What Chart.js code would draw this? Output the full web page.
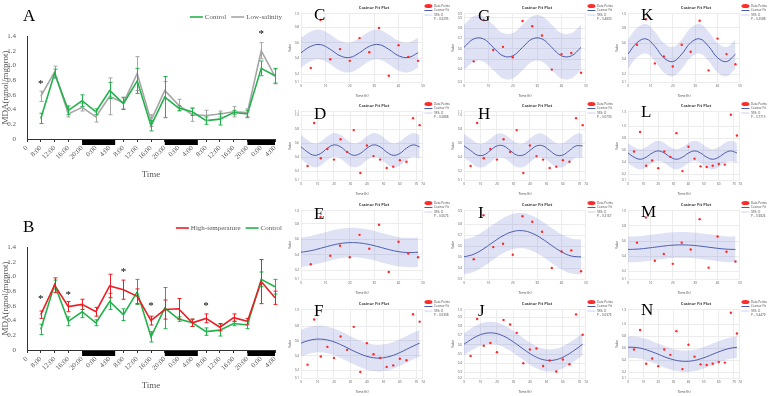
<!DOCTYPE html>
<html>
<head>
<meta charset="utf-8">
<script src="https://cdn.jsdelivr.net/npm/chart.js@4.4.0/dist/chart.umd.min.js"></script>
<style>
  body { margin: 0; background: #fff; width: 777px; height: 396px; position: relative; overflow: hidden; }
  canvas { position: absolute; }
  .tag { position: absolute; font-family: "Liberation Serif", serif; font-size: 17px; line-height: 17px; color: #000; }
</style>
</head>
<body>
<script>
// === DATA: panels A and B ===
const timeLabels = ["0", "8:00", "12:00", "16:00", "20:00", "0:00", "4:00", "8:00", "12:00", "16:00", "20:00", "0:00", "4:00", "8:00", "12:00", "16:00", "20:00", "0:00", "4:00"];

const control     = [0.28, 0.89, 0.39, 0.52, 0.37, 0.66, 0.48, 0.79, 0.18, 0.57, 0.42, 0.37, 0.25, 0.27, 0.36, 0.34, 0.96, 0.86];
const controlErr  = [0.07, 0.06, 0.06, 0.08, 0.04, 0.11, 0.08, 0.17, 0.07, 0.28, 0.03, 0.05, 0.05, 0.08, 0.03, 0.05, 0.10, 0.10];
const lowSalinity = [0.58, 0.91, 0.34, 0.43, 0.30, 0.58, 0.49, 0.89, 0.25, 0.66, 0.46, 0.33, 0.32, 0.34, 0.37, 0.36, 1.20, 0.85];
const lowSalErr   = [0.07, 0.08, 0.04, 0.05, 0.07, 0.25, 0.08, 0.23, 0.08, 0.12, 0.08, 0.09, 0.07, 0.04, 0.07, 0.05, 0.11, 0.10];
const highTemp    = [0.48, 0.88, 0.59, 0.62, 0.52, 0.87, 0.82, 0.73, 0.40, 0.55, 0.56, 0.37, 0.43, 0.31, 0.44, 0.39, 0.93, 0.71];
const highTempErr = [0.05, 0.10, 0.07, 0.07, 0.06, 0.16, 0.13, 0.10, 0.06, 0.13, 0.14, 0.05, 0.06, 0.05, 0.05, 0.04, 0.30, 0.09];

// dark periods (category index, start / end)
const darkStart = [4, 10, 16];
const darkEnd   = [6.4, 12.4, 18];

// significance stars (category index + height)
const starsAIdx = [1, 17];
const starsAVal = [0.78, 1.45];
const starsBIdx = [1, 3, 7, 9, 13];
const starsBVal = [0.72, 0.78, 1.09, 0.63, 0.63];

// === DATA: cosinor panels ===
const sampleHours = [4, 8, 12, 16, 20, 24, 28, 32, 36, 40, 44, 48, 52, 56, 60, 64, 68, 72];
const fitHours    = [0, 4, 8, 12, 16, 20, 24, 28, 32, 36, 40, 44, 48, 52, 56, 60, 64, 68, 72];

const fitC = [0.473, 0.555, 0.577, 0.517, 0.435, 0.413, 0.473, 0.555, 0.577, 0.517, 0.435, 0.413, 0.473];
const fitD = [0.552, 0.478, 0.431, 0.458, 0.532, 0.579, 0.552, 0.478, 0.431, 0.458, 0.532, 0.579, 0.552, 0.478, 0.431, 0.458, 0.532, 0.579, 0.552];
const fitE = [0.435, 0.455, 0.486, 0.520, 0.547, 0.559, 0.555, 0.535, 0.504, 0.470, 0.443, 0.431, 0.435];
const fitF = [0.570, 0.602, 0.621, 0.625, 0.613, 0.588, 0.551, 0.508, 0.464, 0.424, 0.392, 0.373, 0.369, 0.381, 0.406, 0.443, 0.486, 0.530, 0.570];
const fitG = [0.615, 0.697, 0.697, 0.615, 0.533, 0.533, 0.615, 0.697, 0.697, 0.615, 0.533, 0.533, 0.615];
const fitH = [0.565, 0.500, 0.435, 0.435, 0.500, 0.565, 0.565, 0.500, 0.435, 0.435, 0.500, 0.565, 0.565, 0.500, 0.435, 0.435, 0.500, 0.565, 0.565];
const fitI = [0.501, 0.525, 0.574, 0.636, 0.693, 0.731, 0.739, 0.715, 0.666, 0.604, 0.547, 0.509, 0.501];
const fitJ = [0.606, 0.655, 0.695, 0.721, 0.730, 0.721, 0.695, 0.655, 0.606, 0.554, 0.505, 0.465, 0.439, 0.430, 0.439, 0.465, 0.505, 0.554, 0.606];
const fitK = [0.460, 0.607, 0.657, 0.560, 0.413, 0.363, 0.460, 0.607, 0.657, 0.560, 0.413, 0.363, 0.460];
const fitL = [0.555, 0.485, 0.450, 0.485, 0.555, 0.590, 0.555, 0.485, 0.450, 0.485, 0.555, 0.590, 0.555, 0.485, 0.450, 0.485, 0.555, 0.590, 0.555];
const fitM = [0.490, 0.494, 0.505, 0.520, 0.535, 0.546, 0.550, 0.546, 0.535, 0.520, 0.505, 0.494, 0.490];
const fitN = [0.618, 0.618, 0.604, 0.577, 0.541, 0.500, 0.459, 0.423, 0.396, 0.382, 0.382, 0.396, 0.423, 0.459, 0.500, 0.541, 0.577, 0.604, 0.618];

const serif = '"Liberation Serif", "Times New Roman", serif';
const sans = '"Open Sans", "Liberation Sans", sans-serif';

// === PLUGINS ===
const errorBars = {
  id: "errorBars",
  afterDatasetsDraw(chart) {
    const { ctx, scales: { x, y } } = chart;
    for (let i = chart.data.datasets.length - 1; i >= 0; i--) {
      const ds = chart.data.datasets[i];
      ctx.save();
      ctx.strokeStyle = ds.borderColor;
      ctx.lineWidth = 1;
      ds.data.forEach((v, j) => {
        const e = ds.errs[j];
        if (v == null || e == null) return;
        const px = Math.round(x.getPixelForValue(j)) + 0.5;
        const y1 = y.getPixelForValue(v + e), y2 = y.getPixelForValue(v - e);
        ctx.beginPath();
        ctx.moveTo(px, y1); ctx.lineTo(px, y2);
        ctx.moveTo(px - 2, y1); ctx.lineTo(px + 2, y1);
        ctx.moveTo(px - 2, y2); ctx.lineTo(px + 2, y2);
        ctx.stroke();
      });
      ctx.restore();
    }
  }
};

const darkBars = {
  id: "darkBars",
  afterDraw(chart) {
    const { ctx, chartArea, scales: { x } } = chart;
    ctx.save();
    ctx.fillStyle = "#000";
    darkStart.forEach((s, i) => {
      const x1 = x.getPixelForValue(s), x2 = x.getPixelForValue(darkEnd[i]);
      ctx.fillRect(x1, chartArea.bottom + 1, x2 - x1, 5);
    });
    ctx.restore();
  }
};

const stars = {
  id: "stars",
  afterDraw(chart, args, opts) {
    const { ctx, scales: { x, y } } = chart;
    ctx.save();
    ctx.fillStyle = "#000";
    ctx.font = "11px " + serif;
    ctx.textAlign = "center";
    ctx.textBaseline = "middle";
    opts.idx.forEach((k, i) => ctx.fillText("*", x.getPixelForValue(k), y.getPixelForValue(opts.val[i]) + 2));
    ctx.restore();
  }
};

const topLegend = {
  id: "topLegend",
  afterDraw(chart) {
    const ctx = chart.ctx;
    ctx.save();
    ctx.font = "7px " + serif;
    ctx.textBaseline = "middle";
    const items = chart.data.datasets.map(d => ({ t: d.label, c: d.borderColor, w: ctx.measureText(d.label).width }));
    const total = items.reduce((s, it) => s + 15 + it.w, 0) + 5 * (items.length - 1);
    let x = chart.chartArea.right + 7 - total;
    const y = 17;
    items.forEach(it => {
      ctx.strokeStyle = it.c; ctx.lineWidth = 1.6;
      ctx.beginPath(); ctx.moveTo(x, y); ctx.lineTo(x + 13, y); ctx.stroke();
      x += 15;
      ctx.fillStyle = "#595959";
      ctx.fillText(it.t, x, y);
      x += it.w + 5;
    });
    ctx.restore();
  }
};

// === PANELS A / B ===
function mdaChart(top, series, starIdx, starVal) {
  const cv = document.createElement("canvas");
  cv.width = 296; cv.height = 190;
  cv.style.left = "0px"; cv.style.top = top + "px";
  document.body.appendChild(cv);
  new Chart(cv, {
    type: "line",
    data: {
      labels: timeLabels,
      datasets: series.map(s => ({
        label: s.label, data: [null, ...s.values], errs: [null, ...s.errs],
        borderColor: s.color, backgroundColor: s.color, borderWidth: 1.6, pointRadius: 0, tension: 0
      }))
    },
    options: {
      responsive: false, animation: false, devicePixelRatio: 1,
      layout: { padding: { top: 36, right: 21, left: 0, bottom: 0 } },
      plugins: { legend: { display: false }, tooltip: { enabled: false }, stars: { idx: starIdx, val: starVal } },
      scales: {
        x: {
          offset: false,
          grid: { drawOnChartArea: false, tickLength: 3, color: "#333" },
          border: { color: "#333" },
          ticks: { minRotation: 45, maxRotation: 45, autoSkip: false, padding: 2, color: "#595959", font: { family: serif, size: 7 } },
          title: { display: true, text: "Time", color: "#595959", font: { family: serif, size: 9 }, padding: { top: 0, bottom: 10 } },
          afterFit(s) { s.height = 51; }
        },
        y: {
          min: 0, max: 1.4,
          grid: { display: false },
          border: { color: "#333" },
          ticks: { stepSize: 0.2, padding: 3, color: "#595959", font: { family: serif, size: 7 } },
          title: { display: true, text: "MDA(nmol/mgprot)", color: "#595959", font: { family: serif, size: 9 }, padding: 0 },
          afterFit(s) { s.width = 27; }
        }
      }
    },
    plugins: [errorBars, darkBars, stars, topLegend]
  });
}

mdaChart(0, [
  { label: "Control", values: control, errs: controlErr, color: "#22b24c" },
  { label: "Low-salinity", values: lowSalinity, errs: lowSalErr, color: "#a6a6a6" }
], starsAIdx, starsAVal);

mdaChart(211, [
  { label: "High-temperature", values: highTemp, errs: highTempErr, color: "#ee1c24" },
  { label: "Control", values: control, errs: controlErr, color: "#22b24c" }
], starsBIdx, starsBVal);

// === COSINOR PANELS ===
const cols = [{ left: 288, w: 172 }, { left: 451, w: 172 }, { left: 615, w: 162 }];
const rowTops = [2, 100, 199, 298];

function cosinorChart(col, row, values, fit, ci, yMin, yMax, yStep, xMax, pval) {
  const c = cols[col];
  const cv = document.createElement("canvas");
  cv.width = c.w; cv.height = 96;
  cv.style.left = c.left + "px"; cv.style.top = rowTops[row] + "px";
  document.body.appendChild(cv);
  const pts = values.map((v, i) => ({ x: sampleHours[i], y: v }));
  const line = fit.map((v, i) => ({ x: fitHours[i], y: v }));
  const up = fit.map((v, i) => ({ x: fitHours[i], y: v + ci }));
  const lo = fit.map((v, i) => ({ x: fitHours[i], y: v - ci }));
  new Chart(cv, {
    type: "line",
    data: {
      datasets: [
        { label: "Data Points", data: pts, showLine: false, pointRadius: 1.2, pointBorderWidth: 0, backgroundColor: "#ff2a2a", borderColor: "#ff2a2a", pointStyle: "circle" },
        { label: "Cosinor Fit", data: line, borderColor: "#4c5cad", backgroundColor: "#4c5cad", borderWidth: 1, pointRadius: 0, tension: 0.4 },
        { label: "95% CI", data: up, borderColor: "rgba(0,0,0,0)", backgroundColor: "rgba(110,122,210,0.22)", borderWidth: 0, pointRadius: 0, tension: 0.4, fill: "+1" },
        { label: "lower", data: lo, borderColor: "rgba(0,0,0,0)", borderWidth: 0, pointRadius: 0, tension: 0.4, fill: false }
      ]
    },
    options: {
      responsive: false, animation: false, devicePixelRatio: 1,
      layout: { padding: { top: 1, right: 0, left: 0, bottom: 0 } },
      plugins: {
        tooltip: { enabled: false },
        title: { display: true, text: "Cosinor Fit Plot", color: "#444", font: { family: sans, size: 4 }, padding: { top: 2, bottom: 4 } },
        legend: {
          position: "right", align: "start",
          labels: {
            usePointStyle: true, pointStyleWidth: 8, boxHeight: 3, padding: 1.5, color: "#444",
            font: { family: sans, size: 3 },
            generateLabels(chart) {
              const items = Chart.defaults.plugins.legend.labels.generateLabels(chart).filter(it => it.datasetIndex !== 3);
              items[0].pointStyle = "circle";
              items[1].pointStyle = "line";
              items[2].pointStyle = "line";
              items[2].strokeStyle = "rgba(110,122,210,0.35)";
              items[2].lineWidth = 1;
              items.push({ text: "P = " + pval, fillStyle: "rgba(0,0,0,0)", strokeStyle: "rgba(0,0,0,0)", lineWidth: 0, pointStyle: "line", hidden: false });
              return items;
            }
          }
        }
      },
      scales: {
        x: {
          type: "linear", min: 0, max: xMax,
          grid: { color: "#ececec", drawTicks: false },
          border: { display: false },
          ticks: { stepSize: 10, padding: 2, maxRotation: 0, color: "#555", font: { family: sans, size: 3 } },
          title: { display: true, text: "Time (h)", color: "#444", font: { family: sans, size: 3.5 }, padding: { top: 3, bottom: 0 } },
          afterFit(s) { s.height = 16; }
        },
        y: {
          min: yMin, max: yMax,
          grid: { color: "#ececec", drawTicks: false },
          border: { display: false },
          ticks: { stepSize: yStep, padding: 2, color: "#555", font: { family: sans, size: 3 } },
          title: { display: true, text: "Value", color: "#444", font: { family: sans, size: 3 }, padding: 0 },
          afterFit(s) { s.width = 13; }
        }
      }
    }
  });
}

const first12 = arr => arr.slice(0, 12);

cosinorChart(0, 0, first12(control), fitC, 0.19, 0.1, 0.97, 0.2, 50, "0.0295");
cosinorChart(0, 1, control, fitD, 0.17, 0.08, 1.05, 0.2, 74, "0.0888");
cosinorChart(0, 2, first12(control), fitE, 0.19, 0.09, 0.97, 0.2, 50, "0.0676");
cosinorChart(0, 3, control, fitF, 0.18, 0.1, 1.02, 0.2, 74, "0.0308");
cosinorChart(1, 0, first12(highTemp), fitG, 0.22, 0.28, 0.94, 0.1, 50, "0.4830");
cosinorChart(1, 1, control, fitH, 0.17, 0.08, 1.05, 0.2, 74, "0.0790");
cosinorChart(1, 2, first12(highTemp), fitI, 0.16, 0.3, 0.92, 0.1, 50, "0.3167");
cosinorChart(1, 3, highTemp, fitJ, 0.12, 0.24, 0.98, 0.1, 74, "0.0376");
cosinorChart(2, 0, first12(lowSalinity), fitK, 0.19, 0.1, 0.98, 0.2, 50, "0.2588");
cosinorChart(2, 1, lowSalinity, fitL, 0.17, 0.1, 1.25, 0.2, 74, "0.7715");
cosinorChart(2, 2, first12(lowSalinity), fitM, 0.17, 0.1, 1.0, 0.2, 50, "0.9826");
cosinorChart(2, 3, lowSalinity, fitN, 0.18, 0.1, 1.25, 0.2, 74, "0.4479");

// === PANEL LETTERS ===
const tags = [
  ["A", 23, 7], ["B", 23, 218],
  ["C", 314, 6], ["D", 314, 105], ["E", 314, 205], ["F", 314, 302],
  ["G", 478, 7], ["H", 478, 105], ["I", 478, 204], ["J", 478, 302],
  ["K", 641, 6], ["L", 641, 103], ["M", 641, 203], ["N", 641, 301]
];
tags.forEach(([t, x, y]) => {
  const d = document.createElement("div");
  d.className = "tag";
  d.textContent = t;
  d.style.left = x + "px";
  d.style.top = y + "px";
  document.body.appendChild(d);
});
</script>
</body>
</html>
